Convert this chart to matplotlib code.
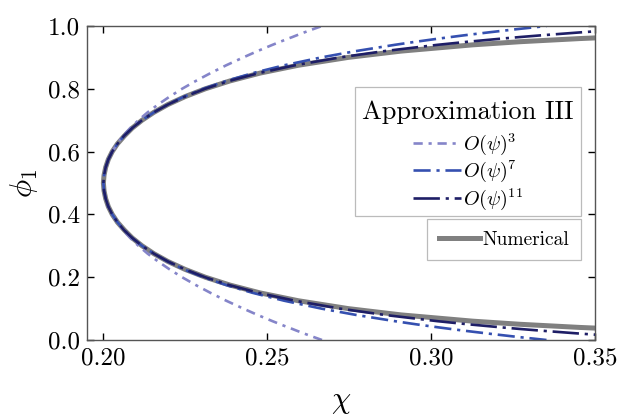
import matplotlib
matplotlib.use("Agg")
import matplotlib.pyplot as plt
from matplotlib.lines import Line2D
from matplotlib.patches import Rectangle

plt.rcParams['font.family'] = 'serif'
plt.rcParams['font.serif'] = ['cmr10']
plt.rcParams['mathtext.fontset'] = 'cm'
plt.rcParams['axes.formatter.use_mathtext'] = True

# volume fraction phi_1 sampled along the approximate binodals
phi = [0.00, 0.01, 0.02, 0.03, 0.035, 0.04, 0.05, 0.06, 0.08, 0.10, 0.125, 0.15, 0.175,
       0.20, 0.225, 0.25, 0.275, 0.30, 0.325, 0.35, 0.375, 0.40, 0.425, 0.45, 0.475,
       0.50,
       0.525, 0.55, 0.575, 0.60, 0.625, 0.65, 0.675, 0.70, 0.725, 0.75, 0.775, 0.80,
       0.825, 0.85, 0.875, 0.90, 0.92, 0.94, 0.95, 0.96, 0.965, 0.97, 0.98, 0.99, 1.00]

chi_o3 = [0.2667, 0.2640, 0.2614, 0.2589, 0.2577, 0.2564, 0.2540, 0.2516, 0.2470, 0.2427,
          0.2375, 0.2327, 0.2282, 0.2240, 0.2202, 0.2167, 0.2135, 0.2107, 0.2082, 0.2060,
          0.2042, 0.2027, 0.2015, 0.2007, 0.2002,
          0.2000,
          0.2002, 0.2007, 0.2015, 0.2027, 0.2042, 0.2060, 0.2082, 0.2107, 0.2135, 0.2167,
          0.2202, 0.2240, 0.2282, 0.2327, 0.2375, 0.2427, 0.2470, 0.2516, 0.2540, 0.2564,
          0.2577, 0.2589, 0.2614, 0.2640, 0.2667]
chi_o7 = [0.3352, 0.3262, 0.3178, 0.3098, 0.3061, 0.3024, 0.2954, 0.2889, 0.2770, 0.2665,
          0.2552, 0.2456, 0.2375, 0.2305, 0.2246, 0.2196, 0.2154, 0.2118, 0.2088, 0.2063,
          0.2043, 0.2027, 0.2015, 0.2007, 0.2002,
          0.2000,
          0.2002, 0.2007, 0.2015, 0.2027, 0.2043, 0.2063, 0.2088, 0.2118, 0.2154, 0.2196,
          0.2246, 0.2305, 0.2375, 0.2456, 0.2552, 0.2665, 0.2770, 0.2889, 0.2954, 0.3024,
          0.3061, 0.3098, 0.3178, 0.3262, 0.3352]
chi_o11 = [0.3757, 0.3600, 0.3459, 0.3332, 0.3273, 0.3217, 0.3113, 0.3019, 0.2857, 0.2722,
           0.2585, 0.2474, 0.2384, 0.2310, 0.2249, 0.2197, 0.2154, 0.2118, 0.2088, 0.2063,
           0.2043, 0.2027, 0.2015, 0.2007, 0.2002,
           0.2000,
           0.2002, 0.2007, 0.2015, 0.2027, 0.2043, 0.2063, 0.2088, 0.2118, 0.2154, 0.2197,
           0.2249, 0.2310, 0.2384, 0.2474, 0.2585, 0.2722, 0.2857, 0.3019, 0.3113, 0.3217,
           0.3273, 0.3332, 0.3459, 0.3600, 0.3757]

# numerical binodal (only the part that reaches into the window)
phi_num = [0.035, 0.04, 0.05, 0.06, 0.08, 0.10, 0.125, 0.15, 0.175, 0.20, 0.225, 0.25,
           0.275, 0.30, 0.325, 0.35, 0.375, 0.40, 0.425, 0.45, 0.475, 0.50,
           0.525, 0.55, 0.575, 0.60, 0.625, 0.65, 0.675, 0.70, 0.725, 0.75, 0.775,
           0.80, 0.825, 0.85, 0.875, 0.90, 0.92, 0.94, 0.95, 0.96, 0.965]
chi_num = [0.3566, 0.3454, 0.3272, 0.3127, 0.2908, 0.2747, 0.2595, 0.2478, 0.2386,
           0.2311, 0.2249, 0.2197, 0.2154, 0.2118, 0.2088, 0.2064, 0.2043, 0.2027,
           0.2015, 0.2007, 0.2002, 0.2000,
           0.2002, 0.2007, 0.2015, 0.2027, 0.2043, 0.2064, 0.2088, 0.2118, 0.2154,
           0.2197, 0.2249, 0.2311, 0.2386, 0.2478, 0.2595, 0.2747, 0.2908, 0.3127,
           0.3272, 0.3454, 0.3566]

labels = [r'$O(\psi)^3$', r'$O(\psi)^7$', r'$O(\psi)^{11}$']
colors = ['#8585c9', '#3550b0', '#1e1e66']
dashes = [(3.5, 2.2, 1.2, 2.2), (6.5, 2.2, 1.2, 2.2), (10, 2.2, 1.2, 2.2)]

W, H = 619, 415
fig = plt.figure(figsize=(W / 100, H / 100), dpi=100)
ax = fig.add_axes([87 / W, 75 / H, 508 / W, 314 / H])


def ax_xy(px, py):
    # pixel position in the figure -> axes fraction
    return (px - 87) / 508, (340 - py) / 314


# numerical binodal drawn first so the approximations sit on top
ax.plot(chi_num, phi_num, color='#808080', lw=3.6, solid_capstyle='butt', zorder=1)

for chi, lab, col, ds in zip([chi_o3, chi_o7, chi_o11], labels, colors, dashes):
    ax.plot(chi, phi, color=col, lw=1.9, dashes=ds, label=lab, zorder=2)

ax.set_xlim(0.195, 0.35)
ax.set_ylim(0.0, 1.0)
ax.set_xticks([0.20, 0.25, 0.30, 0.35])
ax.set_yticks([0.0, 0.2, 0.4, 0.6, 0.8, 1.0])
ax.set_xticklabels(['0.20', '0.25', '0.30', '0.35'])
ax.set_yticklabels(['0.0', '0.2', '0.4', '0.6', '0.8', '1.0'])
ax.tick_params(direction='in', top=True, right=True, length=5, width=1,
               labelsize=18, pad=5)
for sp in ax.spines.values():
    sp.set_color('#555555')
    sp.set_linewidth(1.0)

ax.set_xlabel(r'$\chi$', fontsize=22, labelpad=14)
ax.set_ylabel(r'$\phi_1$', fontsize=22, labelpad=6)

# "Approximation III" box: frame + title drawn by hand, entries by legend
x0, y1 = ax_xy(355, 216)
x1, y0 = ax_xy(581, 87)
ax.add_patch(Rectangle((x0, y1), x1 - x0, y0 - y1, transform=ax.transAxes,
                       facecolor='white', edgecolor='#bbbbbb', lw=0.9, zorder=4))
tx, ty = ax_xy(468, 112)
ax.text(tx, ty, 'Approximation III', transform=ax.transAxes, fontsize=19,
        ha='center', va='center', zorder=6)

handles = [Line2D([], [], color=c, lw=1.9, dashes=d) for c, d in zip(colors, dashes)]
lx, ly = ax_xy(468, 131)
leg1 = ax.legend(handles, labels, fontsize=14.5, loc='upper center',
                 bbox_to_anchor=(lx, ly), borderaxespad=0, frameon=False,
                 handlelength=2.4, handletextpad=0.1, labelspacing=0.1,
                 borderpad=0)
leg1.set_zorder(6)
ax.add_artist(leg1)

num_handle = [Line2D([], [], color='#808080', lw=3.6)]
nx, ny = ax_xy(581, 219)
leg2 = ax.legend(num_handle, ['Numerical'], fontsize=14, loc='upper right',
                 bbox_to_anchor=(nx, ny), borderaxespad=0,
                 fancybox=False, edgecolor='#bbbbbb', framealpha=1,
                 handlelength=2.1, handletextpad=0.15, borderpad=0.6)
leg2.get_frame().set_linewidth(0.9)

fig.savefig('out.png', dpi=100)
